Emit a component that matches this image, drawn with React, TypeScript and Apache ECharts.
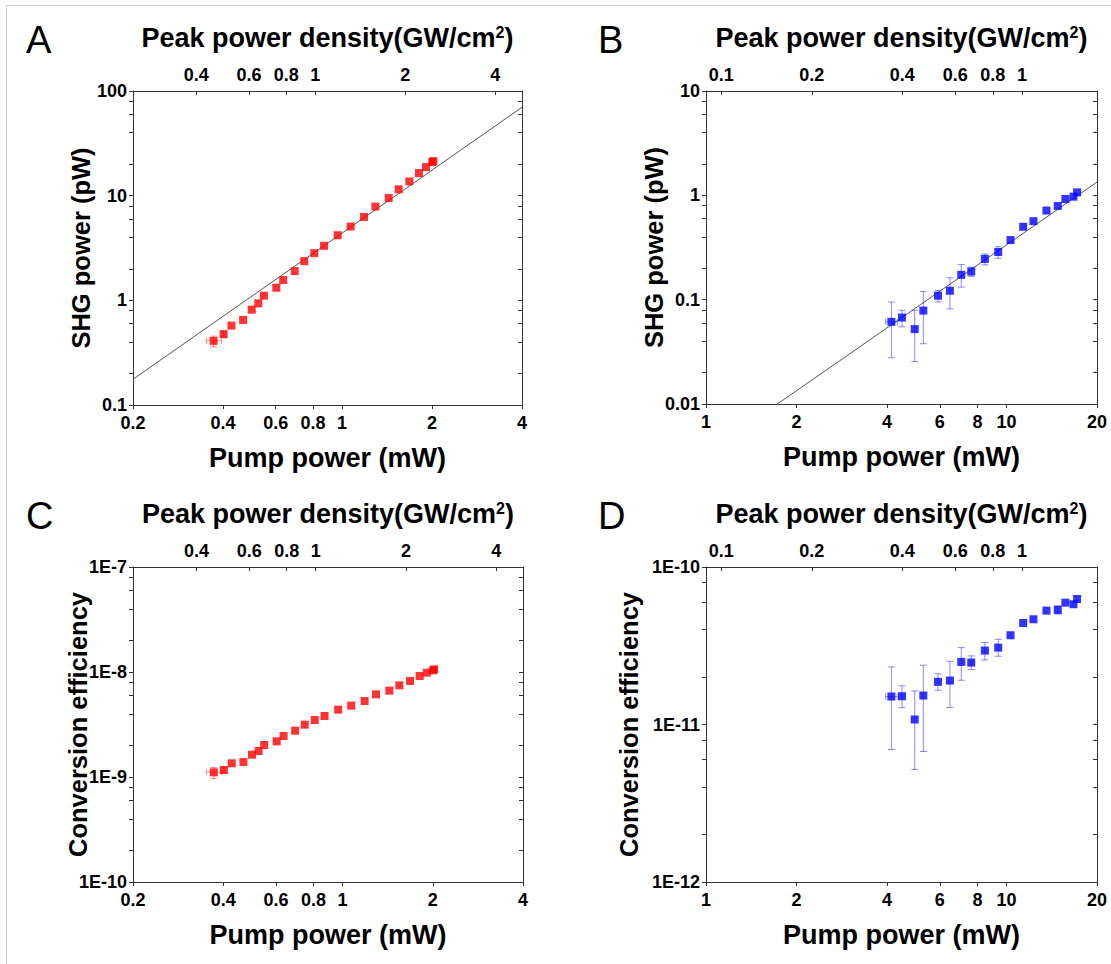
import React, { useEffect, useRef } from "react";
import * as echarts from "echarts";

// ---------- Data: panels A & C (red) ----------
const pumpAC = [0.372, 0.402, 0.427, 0.467, 0.499, 0.525, 0.548, 0.603, 0.636, 0.695, 0.748, 0.808, 0.871, 0.967, 1.069, 1.185, 1.293, 1.433, 1.547, 1.68, 1.809, 1.91, 2.005, 2.021];
const shgA = [0.41, 0.475, 0.574, 0.65, 0.815, 0.936, 1.108, 1.32, 1.562, 1.903, 2.369, 2.824, 3.317, 4.19, 5.07, 6.265, 7.857, 9.5, 11.49, 13.69, 16.44, 18.75, 20.92, 21.39];
const effC = [1.108e-9, 1.166e-9, 1.35e-9, 1.39e-9, 1.632e-9, 1.769e-9, 2.017e-9, 2.186e-9, 2.457e-9, 2.762e-9, 3.15e-9, 3.49e-9, 3.81e-9, 4.38e-9, 4.78e-9, 5.29e-9, 6.13e-9, 6.64e-9, 7.46e-9, 8.21e-9, 9.16e-9, 9.85e-9, 1.037e-8, 1.06e-8];
const yErrIdxAC = [0, 1];
const shgALo = [0.36, 0.445];
const shgAHi = [0.455, 0.505];
const effCLo = [0.965e-9, 1.1e-9];
const effCHi = [1.23e-9, 1.24e-9];
const xErrIdxAC = [0];
const pumpACLo = [0.352];
const pumpACHi = [0.395];
const fitAX = [0.2, 4];
const fitAY = [0.176, 70];

// ---------- Data: panels B & D (blue) ----------
const pumpBD = [4.139, 4.49, 4.949, 5.286, 5.914, 6.482, 7.07, 7.631, 8.472, 9.383, 10.31, 11.36, 12.29, 13.58, 14.81, 15.7, 16.7, 17.17];
const shgB = [0.0613, 0.0674, 0.0522, 0.0786, 0.1092, 0.1218, 0.173, 0.186, 0.2457, 0.2865, 0.3727, 0.4995, 0.5655, 0.7145, 0.7913, 0.9227, 0.971, 1.068];
const yErrIdxB = [0, 1, 2, 3, 4, 5, 6, 7, 8, 9];
const shgBLo = [0.0278, 0.0549, 0.0255, 0.0378, 0.095, 0.0815, 0.132, 0.167, 0.2154, 0.2493];
const shgBHi = [0.095, 0.0791, 0.0791, 0.12, 0.1227, 0.162, 0.217, 0.205, 0.274, 0.322];
const effD = [1.505e-11, 1.512e-11, 1.076e-11, 1.527e-11, 1.865e-11, 1.901e-11, 2.497e-11, 2.473e-11, 2.947e-11, 3.078e-11, 3.687e-11, 4.413e-11, 4.657e-11, 5.284e-11, 5.337e-11, 5.94e-11, 5.8e-11, 6.266e-11];
const yErrIdxD = [0, 1, 2, 3, 4, 5, 6, 7, 8, 9, 14];
const effDLo = [6.94e-12, 1.28e-11, 5.18e-12, 6.74e-12, 1.651e-11, 1.282e-11, 1.91e-11, 2.233e-11, 2.571e-11, 2.713e-11, 5.03e-11];
const effDHi = [2.32e-11, 1.76e-11, 1.635e-11, 2.378e-11, 2.096e-11, 2.522e-11, 3.078e-11, 2.726e-11, 3.313e-11, 3.477e-11, 5.68e-11];
const xErrIdxBD = [0];
const pumpBDLo = [3.96];
const pumpBDHi = [4.33];
const fitBX = [1.728, 20];
const fitBY = [0.01, 1.34];

// ---------- Axes / ticks ----------
const pumpTicksAC = [0.2, 0.4, 0.6, 0.8, 1, 2, 4];
const pumpTicksBD = [1, 2, 4, 6, 8, 10, 20];
const densityTicksAC = [0.4, 0.6, 0.8, 1, 2, 4];
const densityTicksBD = [0.1, 0.2, 0.4, 0.6, 0.8, 1];
const mWPerDensityAC = 0.814; // pump mW corresponding to 1 GW/cm2
const mWPerDensityBD = 11.25;
const yMajorA = [0.1, 1, 10, 100];
const yLabelsA = ["0.1", "1", "10", "100"];
const yMajorB = [0.01, 0.1, 1, 10];
const yLabelsB = ["0.01", "0.1", "1", "10"];
const yMajorC = [1e-10, 1e-9, 1e-8, 1e-7];
const yLabelsC = ["1E-10", "1E-9", "1E-8", "1E-7"];
const yMajorD = [1e-12, 1e-11, 1e-10];
const yLabelsD = ["1E-12", "1E-11", "1E-10"];
const minorMultipliers = [2, 4, 6, 8];

const FONT = '"Liberation Sans", Arial, Helvetica, sans-serif';
const AX = "#333";
const LOG = Math.log10;

const nearestLabel = (v: number, vals: number[], labels: string[]) => {
  let best = 0;
  let bd = Infinity;
  vals.forEach((x, i) => {
    const d = Math.abs(x - v);
    if (d < bd) {
      bd = d;
      best = i;
    }
  });
  return labels[best];
};

const tickFont = { fontFamily: FONT, fontWeight: "bold" as const, fontSize: 18, color: "#000" };
const xTitleFont = { fontFamily: FONT, fontWeight: "bold" as const, fontSize: 27, color: "#000" };
const yTitleFont = { fontFamily: FONT, fontWeight: "bold" as const, fontSize: 25.5, color: "#000" };

type Panel = {
  left: number; top: number; width: number; height: number;
  xTicks: number[]; topTicks: number[]; factor: number;
  yMajors: number[]; yLabels: string[]; yName: string; yNameGap: number;
  color: string; errColor: string;
  px: number[]; py: number[];
  yErrIdx: number[]; yLo: number[]; yHi: number[];
  xErrIdx: number[]; xLo: number[]; xHi: number[];
  fitX?: number[]; fitY?: number[];
};

function buildOption(panels: Panel[]) {
  const grid: any[] = [];
  const xAxis: any[] = [];
  const yAxis: any[] = [];
  const series: any[] = [];
  panels.forEach((p, gi) => {
    grid.push({ left: p.left, top: p.top, width: p.width, height: p.height, containLabel: false });
    const xMin = p.xTicks[0];
    const xMax = p.xTicks[p.xTicks.length - 1];
    const xVals = p.xTicks.map(LOG);
    const xLabs = p.xTicks.map(String);
    xAxis.push({
      type: "value", gridIndex: gi, position: "bottom",
      min: LOG(xMin), max: LOG(xMax),
      axisLine: { show: true, onZero: false, lineStyle: { color: AX, width: 1 } },
      axisTick: { show: true, inside: false, length: 4, customValues: xVals, lineStyle: { color: AX } },
      axisLabel: { show: true, customValues: xVals, margin: 9, formatter: (v: number) => nearestLabel(v, xVals, xLabs), ...tickFont },
      splitLine: { show: false },
      name: "Pump power (mW)", nameLocation: "middle", nameGap: 39, nameMoveOverlap: false, nameTextStyle: xTitleFont,
    });
    const tVals = p.topTicks.map(LOG);
    const tLabs = p.topTicks.map(String);
    xAxis.push({
      type: "value", gridIndex: gi, position: "top",
      min: LOG(xMin / p.factor), max: LOG(xMax / p.factor),
      axisLine: { show: true, onZero: false, lineStyle: { color: AX, width: 1 } },
      axisTick: { show: true, inside: true, length: 4, customValues: tVals, lineStyle: { color: AX } },
      axisLabel: { show: true, customValues: tVals, margin: 7, formatter: (v: number) => nearestLabel(v, tVals, tLabs), ...tickFont },
      splitLine: { show: false },
      name: "Peak power density(GW/cm{s|2})", nameLocation: "middle", nameGap: 40, nameMoveOverlap: false,
      nameTextStyle: {
        ...xTitleFont,
        rich: { s: { fontFamily: FONT, fontWeight: "bold", fontSize: 16, lineHeight: 16, verticalAlign: "top", color: "#000" } },
      },
    });
    const yVals = p.yMajors.map(LOG);
    const yTickVals: number[] = [];
    p.yMajors.forEach((m, i) => {
      yTickVals.push(LOG(m));
      if (i < p.yMajors.length - 1) minorMultipliers.forEach((k) => yTickVals.push(LOG(m * k)));
    });
    const yMin = LOG(p.yMajors[0]);
    const yMax = LOG(p.yMajors[p.yMajors.length - 1]);
    yAxis.push({
      type: "value", gridIndex: gi, position: "left", min: yMin, max: yMax,
      axisLine: { show: true, onZero: false, lineStyle: { color: AX, width: 1 } },
      axisTick: { show: true, inside: false, length: 4, customValues: yTickVals, lineStyle: { color: AX } },
      axisLabel: { show: true, customValues: yVals, margin: 6, formatter: (v: number) => nearestLabel(v, yVals, p.yLabels), ...tickFont },
      splitLine: { show: false },
      name: p.yName, nameLocation: "middle", nameGap: p.yNameGap, nameMoveOverlap: false, nameTextStyle: yTitleFont,
    });
    yAxis.push({
      type: "value", gridIndex: gi, position: "right", min: yMin, max: yMax,
      axisLine: { show: true, onZero: false, lineStyle: { color: AX, width: 1 } },
      axisTick: { show: true, inside: true, length: 4, customValues: yTickVals, lineStyle: { color: AX } },
      axisLabel: { show: false },
      splitLine: { show: false },
    });
    const xi = gi * 2;
    const yi = gi * 2;
    if (p.fitX && p.fitY) {
      series.push({
        type: "line", xAxisIndex: xi, yAxisIndex: yi, symbol: "none", silent: true, z: 1,
        lineStyle: { color: "#555", width: 1 },
        data: p.fitX.map((x, i) => [LOG(x), LOG(p.fitY![i])]),
      });
    }
    const ec = p.errColor;
    series.push({
      type: "custom", xAxisIndex: xi, yAxisIndex: yi, silent: true, z: 2,
      data: p.yErrIdx.map((k, j) => [LOG(p.px[k]), LOG(p.yLo[j]), LOG(p.yHi[j])]),
      encode: { x: 0, y: [1, 2] },
      renderItem: (params: any, api: any) => {
        const x = api.value(0);
        const a = api.coord([x, api.value(1)]);
        const b = api.coord([x, api.value(2)]);
        const w = 3.5;
        const style = { stroke: ec, lineWidth: 1 };
        return {
          type: "group",
          children: [
            { type: "line", shape: { x1: a[0], y1: a[1], x2: b[0], y2: b[1] }, style },
            { type: "line", shape: { x1: a[0] - w, y1: a[1], x2: a[0] + w, y2: a[1] }, style },
            { type: "line", shape: { x1: b[0] - w, y1: b[1], x2: b[0] + w, y2: b[1] }, style },
          ],
        };
      },
    });
    series.push({
      type: "custom", xAxisIndex: xi, yAxisIndex: yi, silent: true, z: 2,
      data: p.xErrIdx.map((k, j) => [LOG(p.xLo[j]), LOG(p.xHi[j]), LOG(p.py[k])]),
      encode: { x: [0, 1], y: 2 },
      renderItem: (params: any, api: any) => {
        const y = api.value(2);
        const a = api.coord([api.value(0), y]);
        const b = api.coord([api.value(1), y]);
        const w = 3;
        const style = { stroke: ec, lineWidth: 1 };
        return {
          type: "group",
          children: [
            { type: "line", shape: { x1: a[0], y1: a[1], x2: b[0], y2: b[1] }, style },
            { type: "line", shape: { x1: a[0], y1: a[1] - w, x2: a[0], y2: a[1] + w }, style },
            { type: "line", shape: { x1: b[0], y1: b[1] - w, x2: b[0], y2: b[1] + w }, style },
          ],
        };
      },
    });
    series.push({
      type: "scatter", xAxisIndex: xi, yAxisIndex: yi, z: 3, silent: true,
      symbol: "rect", symbolSize: 8,
      itemStyle: { color: p.color },
      data: p.px.map((x, i) => [LOG(x), LOG(p.py[i])]),
    });
  });
  const letter = (t: string, x: number, y: number) => ({
    type: "text", x, y,
    style: { text: t, fill: "#000", font: `38px ${FONT}`, textAlign: "left", textVerticalAlign: "middle" },
  });
  return {
    animation: false,
    backgroundColor: "#fff",
    grid, xAxis, yAxis, series,
    graphic: [
      { type: "line", shape: { x1: 6, y1: 5.5, x2: 1111, y2: 5.5 }, style: { stroke: "#cfcfcf", lineWidth: 1 } },
      { type: "line", shape: { x1: 6.5, y1: 5, x2: 6.5, y2: 964 }, style: { stroke: "#cfcfcf", lineWidth: 1 } },
      letter("A", 26, 40),
      letter("B", 598, 40),
      letter("C", 26, 516),
      letter("D", 598, 516),
    ],
  };
}

export default function App() {
  const ref = useRef<HTMLDivElement>(null);
  useEffect(() => {
    if (!ref.current) return;
    const chart = echarts.init(ref.current, undefined, { renderer: "svg" });
    const red = "#ff0000";
    const blue = "#0000ff";
    const redErr = "rgba(255,0,0,0.45)";
    const blueErr = "rgba(40,40,255,0.55)";
    const panels: Panel[] = [
      {
        left: 133, top: 91, width: 389, height: 314,
        xTicks: pumpTicksAC, topTicks: densityTicksAC, factor: mWPerDensityAC,
        yMajors: yMajorA, yLabels: yLabelsA, yName: "SHG power (pW)", yNameGap: 39,
        color: red, errColor: redErr, px: pumpAC, py: shgA,
        yErrIdx: yErrIdxAC, yLo: shgALo, yHi: shgAHi,
        xErrIdx: xErrIdxAC, xLo: pumpACLo, xHi: pumpACHi,
        fitX: fitAX, fitY: fitAY,
      },
      {
        left: 706, top: 91, width: 391, height: 313,
        xTicks: pumpTicksBD, topTicks: densityTicksBD, factor: mWPerDensityBD,
        yMajors: yMajorB, yLabels: yLabelsB, yName: "SHG power (pW)", yNameGap: 39,
        color: blue, errColor: blueErr, px: pumpBD, py: shgB,
        yErrIdx: yErrIdxB, yLo: shgBLo, yHi: shgBHi,
        xErrIdx: xErrIdxBD, xLo: pumpBDLo, xHi: pumpBDHi,
        fitX: fitBX, fitY: fitBY,
      },
      {
        left: 133, top: 567, width: 390, height: 315,
        xTicks: pumpTicksAC, topTicks: densityTicksAC, factor: mWPerDensityAC,
        yMajors: yMajorC, yLabels: yLabelsC, yName: "Conversion efficiency", yNameGap: 42,
        color: red, errColor: redErr, px: pumpAC, py: effC,
        yErrIdx: yErrIdxAC, yLo: effCLo, yHi: effCHi,
        xErrIdx: xErrIdxAC, xLo: pumpACLo, xHi: pumpACHi,
      },
      {
        left: 706, top: 567, width: 391, height: 315,
        xTicks: pumpTicksBD, topTicks: densityTicksBD, factor: mWPerDensityBD,
        yMajors: yMajorD, yLabels: yLabelsD, yName: "Conversion efficiency", yNameGap: 64,
        color: blue, errColor: blueErr, px: pumpBD, py: effD,
        yErrIdx: yErrIdxD, yLo: effDLo, yHi: effDHi,
        xErrIdx: xErrIdxBD, xLo: pumpBDLo, xHi: pumpBDHi,
      },
    ];
    chart.setOption(buildOption(panels) as any);
    return () => chart.dispose();
  }, []);
  return (
    <div
      ref={ref}
      style={{ position: "absolute", left: 0, top: 0, width: 1111, height: 964, background: "#fff" }}
    />
  );
}
